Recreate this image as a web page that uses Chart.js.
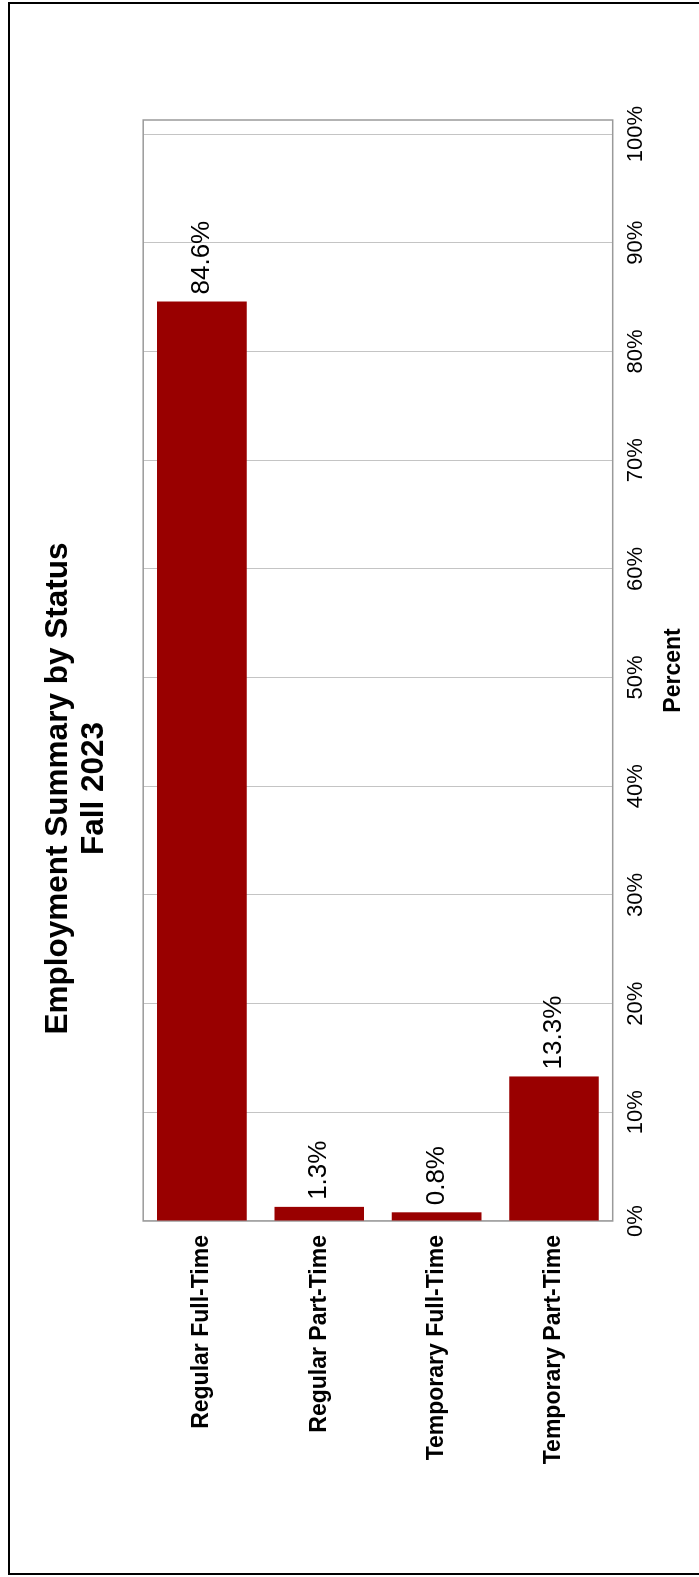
<!DOCTYPE html>
<html>
<head>
<meta charset="utf-8">
<title>Employment Summary by Status</title>
<script src="https://cdn.jsdelivr.net/npm/chart.js@4/dist/chart.umd.min.js"></script>
<style>
    html, body { margin: 0; padding: 0; background: #fff; overflow: hidden; }
    /* the chart is drawn landscape and turned a quarter to the left */
    #frame {
        position: absolute; left: 0; top: 0;
        width: 1577px; height: 699px;
        transform-origin: 0 0;
        transform: translateY(1577px) rotate(-90deg);
    }
    #chart { display: block; }
</style>
</head>
<body>
<div id="frame"><canvas id="chart" width="1577" height="699"></canvas></div>
<script>
var CATEGORIES = ['Regular Full-Time', 'Regular Part-Time', 'Temporary Full-Time', 'Temporary Part-Time'];
var PERCENTS = [84.6, 1.3, 0.8, 13.3];
var TICK_VALUES = [0, 10, 20, 30, 40, 50, 60, 70, 80, 90, 100];
var TITLE_LINES = ['Employment Summary by Status', 'Fall 2023'];
var AXIS_TITLE = 'Percent';

var FONT = '"Liberation Sans", Arial, sans-serif';
var BAR_COLOR = '#990000';

var W = 1577, H = 699;
var PLOT_LEFT = 356, PLOT_BOTTOM = 612.7, RIGHT_GAP = 120;

var outerBorder = {
    id: 'outerBorder',
    beforeDraw: function (ch) {
        var c = ch.ctx;
        c.save();
        c.fillStyle = '#fff';
        c.fillRect(0, 0, W, H);
        c.strokeStyle = '#000';
        c.lineWidth = 2;
        c.strokeRect(3, 9, W - 6, H + 20);
        c.restore();
    }
};

var plotFrame = {
    id: 'plotFrame',
    beforeDatasetsDraw: function (ch) {
        var a = ch.chartArea, c = ch.ctx;
        c.save();
        c.strokeStyle = '#9a9a9a';
        c.lineWidth = 1.5;
        c.strokeRect(a.left, a.top, a.right - a.left, a.bottom - a.top);
        c.restore();
    }
};

var valueLabels = {
    id: 'valueLabels',
    afterDatasetsDraw: function (ch) {
        var c = ch.ctx,
            meta = ch.getDatasetMeta(0);
        c.save();
        c.fillStyle = '#000';
        c.font = '26px ' + FONT;
        c.textAlign = 'left';
        c.textBaseline = 'middle';
        meta.data.forEach(function (bar, i) {
            c.fillText(PERCENTS[i].toFixed(1) + '%', bar.x + 7, bar.y);
        });
        c.restore();
    }
};

new Chart(document.getElementById('chart'), {
    type: 'bar',
    data: {
        labels: CATEGORIES,
        datasets: [{
            data: PERCENTS,
            backgroundColor: BAR_COLOR,
            borderWidth: 0,
            categoryPercentage: 1,
            barPercentage: 0.763
        }]
    },
    options: {
        indexAxis: 'y',
        responsive: false,
        animation: false,
        devicePixelRatio: 1,
        layout: { padding: 0 },
        plugins: {
            legend: { display: false },
            tooltip: { enabled: false },
            title: {
                display: true,
                text: TITLE_LINES,
                color: '#000',
                font: { family: FONT, size: 31.5, weight: 'bold', lineHeight: 1.13 },
                padding: { top: 41, bottom: 31 }
            }
        },
        scales: {
            x: {
                type: 'linear',
                position: 'bottom',
                min: 0,
                max: 101.3,
                afterBuildTicks: function (scale) {
                    scale.ticks = TICK_VALUES.map(function (v) { return { value: v }; });
                },
                afterFit: function (scale) {
                    scale.height = H - PLOT_BOTTOM;
                },
                ticks: {
                    autoSkip: false,
                    maxRotation: 0,
                    color: '#000',
                    padding: 10,
                    font: { family: FONT, size: 22 },
                    callback: function (v) { return v + '%'; }
                },
                grid: { color: '#c4c4c4', lineWidth: 1, drawTicks: false, tickLength: 0 },
                border: { display: false },
                title: {
                    display: true,
                    text: AXIS_TITLE,
                    color: '#000',
                    font: { family: FONT, size: 23, weight: 'bold' },
                    padding: { top: 8, bottom: 12 }
                }
            },
            y: {
                type: 'category',
                position: 'left',
                afterFit: function (scale) {
                    scale.width = PLOT_LEFT;
                },
                ticks: {
                    color: '#000',
                    padding: 14,
                    font: { family: FONT, size: 23, weight: 'bold' }
                },
                grid: { display: false, drawTicks: false, tickLength: 0 },
                border: { display: false }
            },
            // empty right-hand axis that only keeps the blank strip beyond 100%
            yGap: {
                type: 'category',
                position: 'right',
                afterFit: function (scale) {
                    scale.width = RIGHT_GAP;
                },
                ticks: { display: false },
                grid: { display: false, drawTicks: false, tickLength: 0 },
                border: { display: false }
            }
        }
    },
    plugins: [outerBorder, plotFrame, valueLabels]
});
</script>
</body>
</html>
